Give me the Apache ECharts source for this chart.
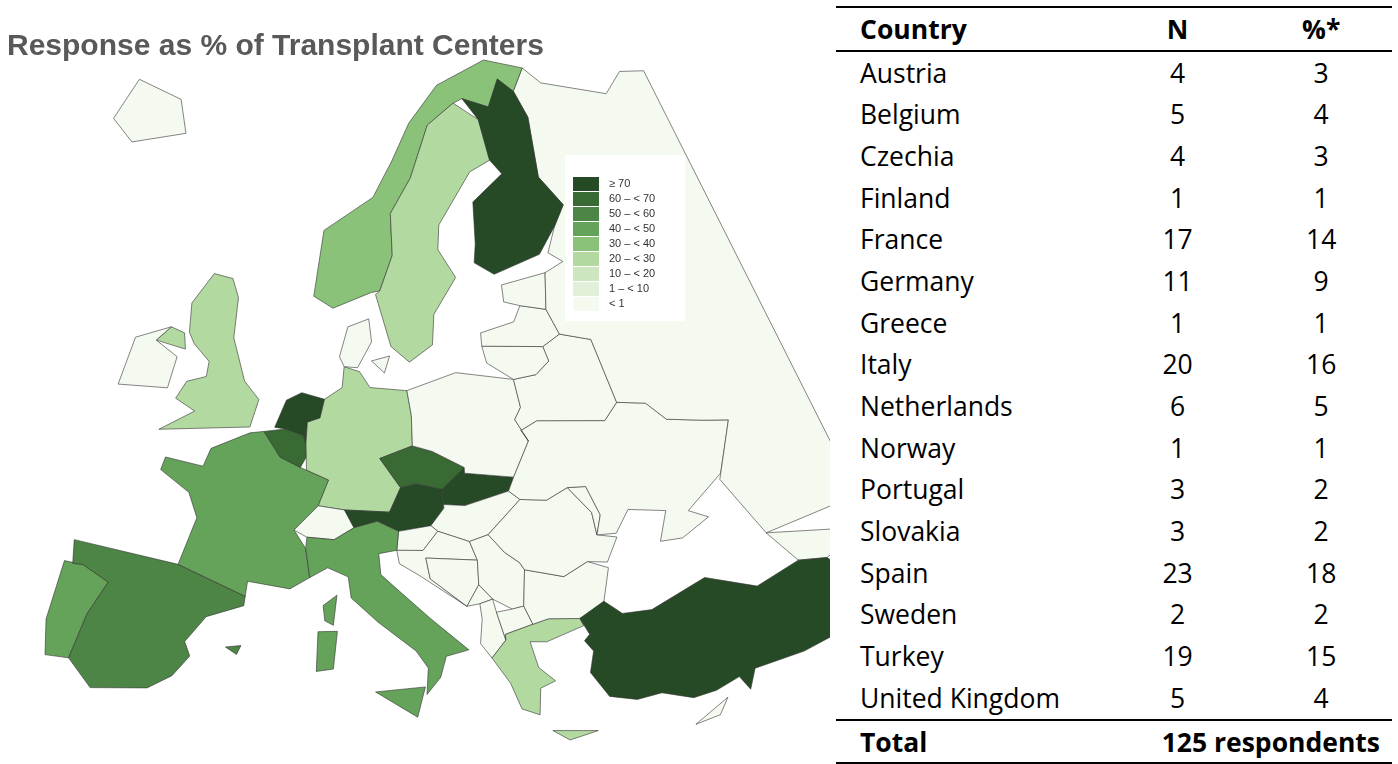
<!DOCTYPE html>
<html><head><meta charset="utf-8">
<script src="https://cdn.jsdelivr.net/npm/echarts@6/dist/echarts.min.js"></script>
<style>
body{margin:0;width:1398px;height:764px;background:#fff;font-family:"Liberation Sans",Arial,sans-serif;overflow:hidden}
#map{position:absolute;left:0;top:0;width:830px;height:764px}
#tbl{position:absolute;left:836px;top:6px;width:556px;border-collapse:collapse;font-family:"Open Sans","Noto Sans",sans-serif;font-size:26.5px}
#tbl td,#tbl th{padding:0 14px 0 24px;height:41.7px}
#tbl th{font-weight:bold;border-top:2px solid #000;border-bottom:2px solid #000;text-align:left}
#tbl .c{text-align:center}
#tbl tr.tot td{font-weight:bold;border-top:2px solid #000;border-bottom:2px solid #000}
</style></head><body>
<div id="map"></div>
<table id="tbl"></table>
<script>
// table data
const tableCountries = ['Austria','Belgium','Czechia','Finland','France','Germany','Greece','Italy','Netherlands','Norway','Portugal','Slovakia','Spain','Sweden','Turkey','United Kingdom'];
const tableN = [4,5,4,1,17,11,1,20,6,1,3,3,23,2,19,5];
const tablePct = [3,4,3,1,14,9,1,16,5,1,2,2,18,2,15,4];
const totalText = '125 respondents';

// map values (% of transplant centers responding, estimated from shading)
const mapCountries = ['Finland','Netherlands','Austria','Turkey','Slovakia','Belgium','Czechia','Spain','Portugal','France','Italy','Norway','United Kingdom','Sweden','Germany','Greece'];
const mapValues = [80,75,75,75,72,65,62,55,45,45,42,35,25,25,25,22];
const legendLabels = ['≥ 70','60 – < 70','50 – < 60','40 – < 50','30 – < 40','20 – < 30','10 – < 20','1 – < 10','< 1'];
const legendColors = ['#264a25','#396a33','#4c8545','#65a25a','#8bc27a','#b2d9a0','#cde6c0','#e2f0d9','#f5faf1'];

// simplified outlines [lon, lat]
const shapes = {
 'Portugal':[[[-9.5,42],[-8.2,42.1],[-6.2,41.6],[-7,39.7],[-7.4,37.2],[-8.9,37],[-9.5,38.8]]],
 'Spain':[[[-9.3,43.2],[-1.8,43.4],[3.2,42.4],[3.2,41.9],[0.8,41],[-0.3,39.5],[0.2,38.8],[-0.7,37.6],[-2.1,36.7],[-5.6,36],[-7.4,37.2],[-7,39.7],[-6.2,41.6],[-8.2,42.1],[-8.9,42]],[[2.4,39.6],[3.4,39.8],[3.2,39.3]]],
 'France':[[[-1.8,43.4],[-1.2,46],[-2.2,47.2],[-4.7,48],[-4.6,48.7],[-1.6,48.7],[-1.3,49.7],[1.5,50.9],[2.6,51.1],[4.2,49.9],[5.9,49.5],[8.2,49],[7.6,47.6],[6,46.2],[7,45.3],[7.5,43.8],[6.2,43.1],[3.2,43.2],[3.2,42.4]],[[8.6,42.4],[9.5,43],[9.4,41.4],[8.8,41.6]]],
 'Belgium':[[[2.6,51.1],[4.3,51.4],[5.8,51.2],[6.4,50.3],[5.9,49.5],[4.2,49.9]]],
 'Netherlands':[[[3.4,51.4],[4,52.9],[5.2,53.4],[7.2,53.2],[7,52.2],[6,51.9],[6.1,50.8],[5.8,51.2],[4.3,51.4]]],
 'Germany':[[[6,51.9],[7,52.2],[7.2,53.2],[8.6,53.9],[8.6,55],[10,54.8],[11,54],[14.2,53.9],[14.6,52.6],[14.7,51],[12.1,50.3],[13.8,48.8],[13,47.5],[9.6,47.5],[7.6,47.6],[8.2,49],[6.4,49.4],[6.1,50.8]]],
 'Switzerland':[[[6,46.2],[7.6,47.6],[9.6,47.5],[10.4,46.6],[9,45.9],[7,45.9]]],
 'Austria':[[[9.6,47.5],[13,47.5],[13.8,48.8],[15,49],[17,48.7],[17.1,47.7],[16.1,46.8],[13.7,46.5],[12.1,47],[10.4,46.6]]],
 'Czechia':[[[12.1,50.3],[14.7,51],[16.3,50.7],[18.8,49.8],[17,48.7],[15,49],[13.8,48.8]]],
 'Slovakia':[[[17,48.7],[18.8,49.8],[18.8,49.5],[22.6,49.1],[22.1,48.4],[18.7,47.8],[17.1,47.9]]],
 'Poland':[[[14.2,53.9],[18.5,54.8],[23.5,54.2],[23.8,52.7],[23.2,52.1],[24.1,50.9],[22.6,49.1],[18.8,49.5],[18.8,49.8],[16.3,50.7],[14.7,51],[14.6,52.6]]],
 'Hungary':[[[16.1,46.8],[17.1,47.7],[17.1,47.9],[18.7,47.8],[22.1,48.4],[22.9,47.9],[20.3,46.2],[18.9,45.9],[16.6,46.5]]],
 'Slovenia':[[[13.7,46.5],[16.1,46.8],[16.6,46.5],[15.5,45.5],[13.6,45.5]]],
 'Croatia':[[[13.6,45.5],[15.5,45.5],[16.6,46.5],[18.9,45.9],[19.4,44.9],[15.7,45.1],[16,44],[18.5,42.5],[15.2,44.2],[13.8,44.8]]],
 'Bosnia':[[[15.7,45.1],[19.4,44.9],[19.4,43.6],[18.5,42.5],[16,44]]],
 'Serbia':[[[18.9,45.9],[20.3,46.2],[21.4,45.2],[22.4,44.6],[22.7,44.2],[22.4,42.3],[21.6,42.2],[20.3,42.8],[19.4,43.6],[19.4,44.9]]],
 'Montenegro':[[[18.5,42.5],[19.4,43.6],[20.3,42.8],[19.4,42.6]]],
 'Albania':[[[19.4,42.6],[20.3,42.8],[20.5,42.1],[21,40.6],[20,39.7],[19.3,40.5],[19.5,41.8]]],
 'North Macedonia':[[[20.5,42.1],[21.6,42.2],[22.4,42.3],[22.9,41.3],[21,40.9],[21,40.6]]],
 'Greece':[[[20,39.7],[21,40.6],[21,40.9],[22.9,41.3],[24,41.5],[26.1,41.3],[26.3,40.9],[23.7,40.3],[22.6,40.4],[23,39],[24,38.2],[23,37.9],[22.8,36.5],[21.7,36.9],[21.1,38.3]],[[23.5,35.6],[26.3,35.3],[24.5,35]]],
 'Bulgaria':[[[22.7,44.2],[25.4,43.6],[27.2,44.2],[28.6,43.7],[27.9,42],[26.1,41.3],[24,41.5],[22.9,41.3],[22.4,42.3]]],
 'Romania':[[[22.9,47.9],[24.9,47.7],[26.6,48.2],[28.1,46.7],[28.2,45.5],[29.6,45.2],[28.6,44],[27.2,44.2],[25.4,43.6],[22.7,44.2],[22.4,44.6],[21.4,45.2],[20.3,46.2]]],
 'Moldova':[[[26.6,48.2],[28,48.1],[28.7,46.5],[28.2,45.5],[28.1,46.7]]],
 'Ukraine':[[[23.6,51.5],[25,51.9],[30.5,51.3],[31.8,52.1],[34.1,51.7],[35.4,50.6],[38.2,50],[40.1,49.6],[38.2,47.1],[35.1,45.7],[36.4,45.1],[34.2,44.4],[32.6,44.5],[33.5,46],[30.8,46.5],[29.6,45.4],[28.2,45.5],[28.7,46.5],[28,48.1],[26.6,48.2],[24.9,47.7],[22.9,47.9],[22.1,48.4],[22.6,49.1],[24.1,50.9]]],
 'Belarus':[[[23.8,52.7],[23.5,54.2],[25.5,54.3],[26.8,54.9],[26.5,55.7],[28.2,56.2],[30.9,55.6],[31.8,52.1],[30.5,51.3],[25,51.9],[23.6,51.5],[24.1,50.9],[23.2,52.1]]],
 'Lithuania':[[[21,56.1],[26.5,55.7],[26.8,54.9],[25.5,54.3],[23.5,54.2],[21.3,55.2]]],
 'Latvia':[[[21,56.8],[24.2,57.2],[25,58],[27.4,57.6],[28.2,56.2],[26.5,55.7],[21,56.1]]],
 'Estonia':[[[23.5,59.2],[28,59.5],[27.4,57.6],[25,58],[23.5,58.3]]],
 'Russia':[[[28,59.5],[30,59.9],[28.7,60.5],[30,61.8],[31.5,62.8],[29.5,64.5],[30,67.7],[28.9,69.2],[31,70.3],[33,69.3],[41,67.7],[44,68.5],[47,68],[47,43.5],[40,43.4],[38,46.8],[40.1,49.6],[38.2,50],[35.4,50.6],[34.1,51.7],[31.8,52.1],[30.9,55.6],[28.2,56.2],[27.4,57.6]]],
 'Georgia':[[[40,43.4],[46.6,41.8],[43.4,41.1],[41.5,41.5]]],
 'Turkey':[[[26.1,41.3],[27.9,42],[29,41.2],[31,41.1],[35,42.1],[38.3,40.9],[41.5,41.5],[43.4,41.1],[44.8,39.7],[44.2,37.2],[42.3,37.2],[40,36.9],[36.7,36.8],[36.1,35.8],[35.6,36.6],[34,36.2],[32.5,36.1],[30.6,36.7],[29,36.6],[27.3,37],[26.3,38.4],[26.7,39.5],[26.2,40.1],[26.6,40.4]]],
 'Cyprus':[[[32.3,34.7],[34.6,35.7],[33.9,34.9]]],
 'Denmark':[[[8.1,55.5],[8.6,57.1],[10.5,57.6],[10.9,56.4],[9.8,55],[8.6,55]],[[11,55.4],[12.6,55.7],[12.2,54.8]]],
 'Norway':[[[5,58.5],[7,58],[10.6,59],[11.4,59.1],[12.5,61],[12.1,63.2],[14.3,65.1],[16.5,67.9],[20.2,69],[21.5,69.2],[25,68.6],[28.9,69.2],[31,70.3],[25.5,71.1],[18,70],[14,68],[12,66],[10,64],[5,62]]],
 'Sweden':[[[11.4,59.1],[11,58.9],[12.7,56.2],[14.4,55.4],[16.5,56.3],[16.7,57.9],[19,59.8],[17.3,61.3],[17.5,62.6],[21.5,65.3],[24.1,65.8],[23.4,68],[20.2,69],[16.5,67.9],[14.3,65.1],[12.1,63.2],[12.5,61]]],
 'Finland':[[[21,60.5],[22.9,59.8],[27.8,60.5],[30,61.8],[31.5,62.8],[29.5,64.5],[30,67.7],[28.9,69.2],[27,70],[25,68.6],[21.5,69.2],[23.4,68],[24.1,65.8],[25.3,65],[21.5,63.7],[21.3,61.5]]],
 'United Kingdom':[[[-5.7,50],[1.4,51.2],[1.7,52.7],[0.2,53.5],[-1.6,55.6],[-2.1,57.7],[-3.1,58.6],[-5,58.6],[-6.2,56.8],[-5.6,55.3],[-4.9,54.8],[-3.2,54.1],[-3.1,53.3],[-4.6,52.8],[-5.1,51.8],[-3.3,51.4]],[[-8.2,54.4],[-5.5,54.4],[-6,55.2],[-7.3,55.3]]],
 'Ireland':[[[-10,51.6],[-6,52.2],[-6,53.9],[-8.2,54.4],[-7.3,55.3],[-10,54.2]]],
 'Iceland':[[[-22,64],[-22,66.4],[-16,66.5],[-13.5,65],[-18.7,63.4]]],
 'Italy':[[[7,45.9],[9,45.9],[10.4,46.6],[12.1,47],[13.7,46.5],[13.6,45.5],[12.3,45.3],[12.5,44.2],[13.6,43.5],[16,41.9],[18.5,40.2],[17,39.9],[16.6,38.8],[15.7,37.9],[15.8,39.3],[15,40.2],[12.4,41.7],[10.5,42.9],[10.2,44],[8.7,44.4],[7.5,43.8],[7,45.3]],[[12.4,38],[15.6,38.3],[15.1,36.7]],[[8.4,41],[9.7,41.1],[9.6,39.1],[8.5,38.9]]]
};
const geo = {type:'FeatureCollection',features:Object.keys(shapes).map(n=>({type:'Feature',properties:{name:n},geometry:{type:'Polygon',coordinates:shapes[n]}}))};
geo.features.forEach(f=>{ if(f.geometry.coordinates.length>1){ f.geometry={type:'MultiPolygon',coordinates:f.geometry.coordinates.map(r=>[r])}; } });
echarts.registerMap('europe', geo);

// Lambert azimuthal equal-area centred on Europe
const lam0 = 15*Math.PI/180, phi0 = 52*Math.PI/180;
function project(p){
  const l=p[0]*Math.PI/180-lam0, f=p[1]*Math.PI/180;
  const k=Math.sqrt(2/(1+Math.sin(phi0)*Math.sin(f)+Math.cos(phi0)*Math.cos(f)*Math.cos(l)));
  return [k*Math.cos(f)*Math.sin(l)*1000, -k*(Math.cos(phi0)*Math.sin(f)-Math.sin(phi0)*Math.cos(f)*Math.cos(l))*1000];
}
function unproject(p){
  const x=p[0]/1000, y=-p[1]/1000, r=Math.sqrt(x*x+y*y)||1e-9, c=2*Math.asin(r/2);
  const f=Math.asin(Math.cos(c)*Math.sin(phi0)+y*Math.sin(c)*Math.cos(phi0)/r);
  const l=lam0+Math.atan2(x*Math.sin(c), r*Math.cos(phi0)*Math.cos(c)-y*Math.sin(phi0)*Math.sin(c));
  return [l*180/Math.PI, f*180/Math.PI];
}

// table
let html='<tr><th>Country</th><th class="c">N</th><th class="c">%*</th></tr>';
tableCountries.forEach((c,i)=>{html+=`<tr><td>${c}</td><td class="c">${tableN[i]}</td><td class="c">${tablePct[i]}</td></tr>`;});
html+=`<tr class="tot"><td>Total</td><td colspan="2" style="text-align:right;padding-right:12px">${totalText}</td></tr>`;
document.getElementById('tbl').innerHTML=html;

const chart = echarts.init(document.getElementById('map'));
const thresholds=[[70,1000],[60,70],[50,60],[40,50],[30,40],[20,30],[10,20],[1,10],[-1,1]];
chart.setOption({
  title:{text:'Response as % of Transplant Centers',left:2,top:27,textStyle:{fontSize:30,fontWeight:'bold',color:'#595959',fontFamily:'Liberation Sans'}},
  visualMap:{type:'piecewise',pieces:thresholds.map((t,i)=>({gte:t[0],lt:t[1],label:legendLabels[i],color:legendColors[i]})),
    left:565,top:155,itemWidth:26,itemHeight:14,itemGap:1,itemSymbol:'rect',align:'left',backgroundColor:'#fff',padding:[22,30,10,8],
    textStyle:{fontSize:11,color:'#333'},borderWidth:0},
  series:[{type:'map',map:'europe',projection:{project,unproject},left:45,top:60,width:820,height:680,roam:false,
    itemStyle:{borderColor:'#333',borderWidth:0.6,areaColor:'#f5faf1'},emphasis:{disabled:true},select:{disabled:true},
    label:{show:false},
    data:mapCountries.map((n,i)=>({name:n,value:mapValues[i]})).concat(Object.keys(shapes).filter(n=>!mapCountries.includes(n)).map(n=>({name:n,value:0})))
  }]
});
</script></body></html>
